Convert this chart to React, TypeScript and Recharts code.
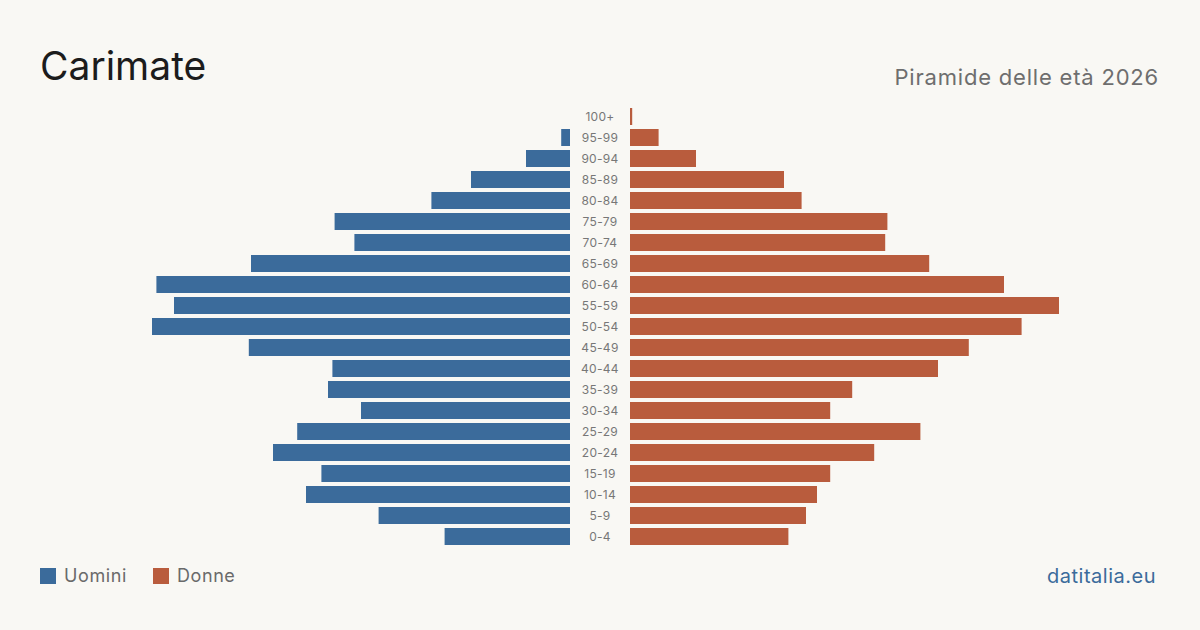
import { BarChart, Bar, XAxis, YAxis } from "recharts"

// Age bands, youngest first
const ageGroups = [
  "0-4", "5-9", "10-14", "15-19", "20-24", "25-29", "30-34", "35-39", "40-44", "45-49",
  "50-54", "55-59", "60-64", "65-69", "70-74", "75-79", "80-84", "85-89", "90-94", "95-99", "100+",
]

// Residents per band
const uomini = [57, 87, 120, 113, 135, 124, 95, 110, 108, 146, 190, 180, 188, 145, 98, 107, 63, 45, 20, 4, 0]
const donne = [72, 80, 85, 91, 111, 132, 91, 101, 140, 154, 178, 195, 170, 136, 116, 117, 78, 70, 30, 13, 1]

const MAX = 240

const BLUE = "#3b6b9b"
const RED = "#b95c3d"
const BG = "#f9f8f4"
const FONT = "Inter, 'Noto Sans', sans-serif"

// oldest band on top
const rows = ageGroups
  .map((age, i) => ({ age, uomini: uomini[i], donne: donne[i] }))
  .reverse()

const PLOT_TOP = 106
const PLOT_H = 441
const CHART_H = 630

export default function App() {
  return (
    <div
      style={{
        position: "absolute",
        left: 0,
        top: 0,
        width: 1200,
        height: 630,
        background: BG,
        fontFamily: FONT,
        overflow: "hidden",
      }}
    >
      <div style={{ position: "absolute", left: 40, top: 41, fontSize: 39, color: "#1c1c1c", lineHeight: "50px" }}>
        Carimate
      </div>
      <div
        style={{
          position: "absolute",
          right: 41,
          top: 62,
          fontSize: 22,
          color: "#6e6e6e",
          lineHeight: "30px",
          letterSpacing: 0.8,
        }}
      >
        Piramide delle età 2026
      </div>

      {/* men: bars grow leftwards from the centre column */}
      <div style={{ position: "absolute", left: 42, top: 0 }}>
        <BarChart
          width={528}
          height={CHART_H}
          data={rows}
          layout="vertical"
          margin={{ top: PLOT_TOP, bottom: CHART_H - PLOT_TOP - PLOT_H, left: 0, right: 0 }}
        >
          <XAxis type="number" domain={[0, MAX]} reversed hide />
          <YAxis type="category" dataKey="age" hide />
          <Bar dataKey="uomini" fill={BLUE} barSize={17} isAnimationActive={false} />
        </BarChart>
      </div>

      {/* women, with the age labels in the centre column */}
      <div style={{ position: "absolute", left: 570, top: 0 }}>
        <BarChart
          width={588}
          height={CHART_H}
          data={rows}
          layout="vertical"
          margin={{ top: PLOT_TOP, bottom: CHART_H - PLOT_TOP - PLOT_H, left: 0, right: 0 }}
        >
          <XAxis type="number" domain={[0, MAX]} hide />
          <YAxis
            type="category"
            dataKey="age"
            width={60}
            axisLine={false}
            tickLine={false}
            interval={0}
            tick={({ y, payload }: any) => (
              <text
                x={30}
                y={y}
                dy={4}
                textAnchor="middle"
                fontSize={12}
                fill="#777"
                fontFamily={FONT}
                letterSpacing={0.3}
              >
                {payload.value}
              </text>
            )}
          />
          <Bar dataKey="donne" fill={RED} barSize={17} isAnimationActive={false} />
        </BarChart>
      </div>

      {/* legend */}
      <div
        style={{
          position: "absolute",
          left: 40,
          top: 564,
          display: "flex",
          alignItems: "center",
          fontSize: 18,
          color: "#6a6a6a",
          lineHeight: "24px",
          letterSpacing: 0.6,
        }}
      >
        <span style={{ width: 16, height: 16, background: BLUE, display: "inline-block", marginRight: 8 }} />
        <span>Uomini</span>
        <span style={{ width: 16, height: 16, background: RED, display: "inline-block", marginLeft: 26, marginRight: 8 }} />
        <span>Donne</span>
      </div>
      <div
        style={{
          position: "absolute",
          right: 44,
          top: 563,
          fontSize: 20,
          color: BLUE,
          lineHeight: "26px",
          letterSpacing: 0.5,
        }}
      >
        datitalia.eu
      </div>
    </div>
  )
}
